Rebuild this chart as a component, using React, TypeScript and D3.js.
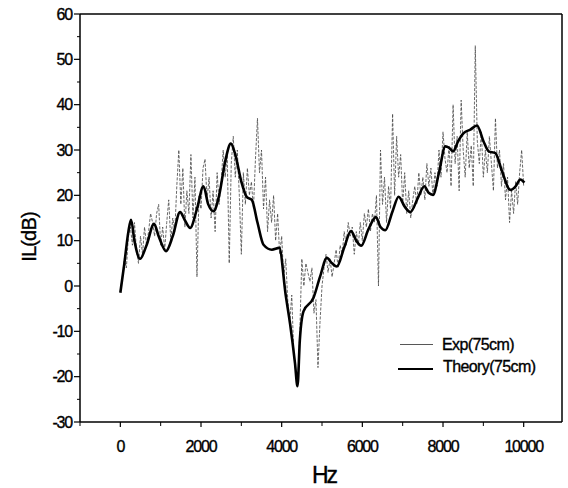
import React from "react";
import * as d3 from "d3";

const theoryHz = [0, 100, 200, 265, 350, 490, 650, 836, 950, 1134, 1300, 1481, 1600, 1730, 1900, 2060, 2180, 2308, 2450, 2600, 2740, 2850, 3000, 3137, 3260, 3400, 3550, 3757, 3940, 4100, 4211, 4330, 4392, 4450, 4541, 4789, 4950, 5121, 5250, 5370, 5550, 5717, 5850, 5973, 6150, 6337, 6450, 6568, 6750, 6900, 7050, 7190, 7380, 7536, 7650, 7752, 7900, 8057, 8150, 8248, 8380, 8511, 8677, 8843, 9000, 9132, 9297, 9463, 9670, 9800, 9918, 10017];
const theoryDb = [-1.5, 5, 12, 14.6, 10, 6.0, 9, 13.7, 11, 7.7, 11, 16.3, 14.5, 12.8, 17, 22, 18, 16.5, 20, 27.5, 31.4, 29, 23, 19.6, 19.0, 14, 9.1, 8.0, 8.4, -2, -8.5, -17, -22.1, -12, -5.6, -2.6, 2, 6.2, 5, 4.3, 8.5, 12.1, 10, 8.9, 12.5, 15.2, 13, 12.3, 16.5, 19.7, 17.5, 16.3, 19.5, 22, 20.5, 20.1, 25, 30.8, 30.5, 29.7, 32, 33.7, 34.5, 35.4, 32, 29.7, 29.3, 25.3, 21.2, 22, 23.5, 22.8];

// experimental values on a 50 Hz grid, 0..10000 Hz
const expDb = [
  -1, 2, 6, 4, 11, 13, 9, 14, 8, 5, 11, 7, 13, 9, 12, 16, 14, 11, 16, 18,
  9, 13, 8, 14, 19, 10, 15, 12, 22, 30, 18, 26, 13, 21, 16, 29, 15, 24, 2, 20,
  17, 26, 28, 19, 24, 15, 21, 12, 25, 18, 23, 30, 24, 29, 5, 27, 33, 24, 30, 20,
  7, 25, 18, 26, 20, 23, 17, 28, 37, 25, 30, 17, 24, 12, 19, 14, 20, 10, 16, 7,
  11, 2, 6, -3, -8, -2, -15, -19, -21, -10, 6, 0, 5, 3, 1, 4, -6, -3, -18, -8,
  0, 4, 7, 3, 6, 2, 5, 8, 4, 9, 7, 12, 9, 14, 11, 13, 7, 12, 9, 14,
  10, 16, 13, 17, 12, 16, 14, 20, 0, 30, 18, 24, 14, 22, 17, 38, 20, 33, 24, 29,
  18, 25, 16, 21, 15, 19, 22, 18, 25, 20, 24, 19, 27, 22, 26, 20, 25, 22, 30, 24,
  34, 28, 25, 31, 22, 40, 27, 33, 21, 41, 30, 24, 34, 26, 31, 22, 53, 32, 27, 34,
  24, 30, 25, 33, 27, 21, 37, 26, 30, 22, 27, 19, 24, 14, 21, 16, 23, 18, 25, 30,
  22
];
const expHz = d3.range(0, 10001, 50);

const xTicksMajor = [0, 2000, 4000, 6000, 8000, 10000];
const xTicksMinor = [-1000, 1000, 3000, 5000, 7000, 9000];
const yTicksMajor = [-30, -20, -10, 0, 10, 20, 30, 40, 50, 60];
const yTicksMinor = [-25, -15, -5, 5, 15, 25, 35, 45, 55];

const legendLabels = ["Exp(75cm)", "Theory(75cm)"];

export default function App() {
  const W = 568, H = 488;
  const left = 80, right = 562, top = 14, bottom = 422;
  const x = d3.scaleLinear().domain([-1000, 10950]).range([left, right]);
  const y = d3.scaleLinear().domain([-30, 60]).range([bottom, top]);

  const theoryPts: [number, number][] = theoryHz.map((h, i) => [x(h), y(theoryDb[i])]);
  const expPts: [number, number][] = expHz.map((h, i) => [x(h), y(expDb[i])]);
  const theoryPath = d3.line().curve(d3.curveMonotoneX)(theoryPts) || "";
  const expPath = d3.line()(expPts) || "";

  const font = "'Liberation Sans', Arial, sans-serif";
  const heavy = { stroke: "#000", strokeWidth: 0.35 };

  return (
    <svg width={W} height={H} style={{ position: "absolute", left: 0, top: 0, background: "#fff" }} fontFamily={font}>
      <rect x={0} y={0} width={W} height={H} fill="#fff" />
      {/* frame */}
      <line x1={left} x2={right} y1={top} y2={top} stroke="#000" strokeWidth={1.5} />
      <line x1={right} x2={right} y1={top} y2={bottom} stroke="#000" strokeWidth={1.5} />
      <line x1={left} x2={right} y1={bottom} y2={bottom} stroke="#000" strokeWidth={1.5} />
      <line x1={left} x2={left} y1={top} y2={bottom} stroke="#000" strokeWidth={1.5} />

      {/* x ticks */}
      {xTicksMajor.map((t) => (
        <g key={"xm" + t}>
          <line x1={x(t)} x2={x(t)} y1={bottom} y2={bottom + 5} stroke="#000" strokeWidth={1.2} />
          <text x={x(t)} y={452} textAnchor="middle" fontSize={16} letterSpacing={-1.2} {...heavy}>{t}</text>
        </g>
      ))}
      {xTicksMinor.map((t) => (
        <line key={"xn" + t} x1={x(t)} x2={x(t)} y1={bottom} y2={bottom + 4} stroke="#000" strokeWidth={1} />
      ))}

      {/* y ticks */}
      {yTicksMajor.map((t) => (
        <g key={"ym" + t}>
          <line x1={left - 6} x2={left} y1={y(t)} y2={y(t)} stroke="#000" strokeWidth={1.2} />
          <text x={72} y={y(t)} dy="0.36em" textAnchor="end" fontSize={16} letterSpacing={-1.2} {...heavy}>{t}</text>
        </g>
      ))}
      {yTicksMinor.map((t) => (
        <line key={"yn" + t} x1={left - 3} x2={left} y1={y(t)} y2={y(t)} stroke="#000" strokeWidth={1} />
      ))}

      {/* axis titles */}
      <text x={324} y={483} textAnchor="middle" fontSize={23} letterSpacing={-2} {...heavy}>Hz</text>
      <text transform="translate(36,237) rotate(-90)" textAnchor="middle" fontSize={20} letterSpacing={-0.8} {...heavy}>IL(dB)</text>

      {/* data */}
      <path d={expPath} fill="none" stroke="#444" strokeWidth={0.8} strokeDasharray="3 1.5" />
      <path d={theoryPath} fill="none" stroke="#000" strokeWidth={2.6} strokeLinejoin="round" />

      {/* legend */}
      <line x1={400} x2={433} y1={344.5} y2={344.5} stroke="#444" strokeWidth={0.9} />
      <text x={442} y={350} fontSize={16} letterSpacing={-0.6} {...heavy}>{legendLabels[0]}</text>
      <line x1={398} x2={433} y1={369} y2={369} stroke="#000" strokeWidth={2} />
      <text x={443} y={372} fontSize={16} letterSpacing={-0.6} {...heavy}>{legendLabels[1]}</text>
    </svg>
  );
}
